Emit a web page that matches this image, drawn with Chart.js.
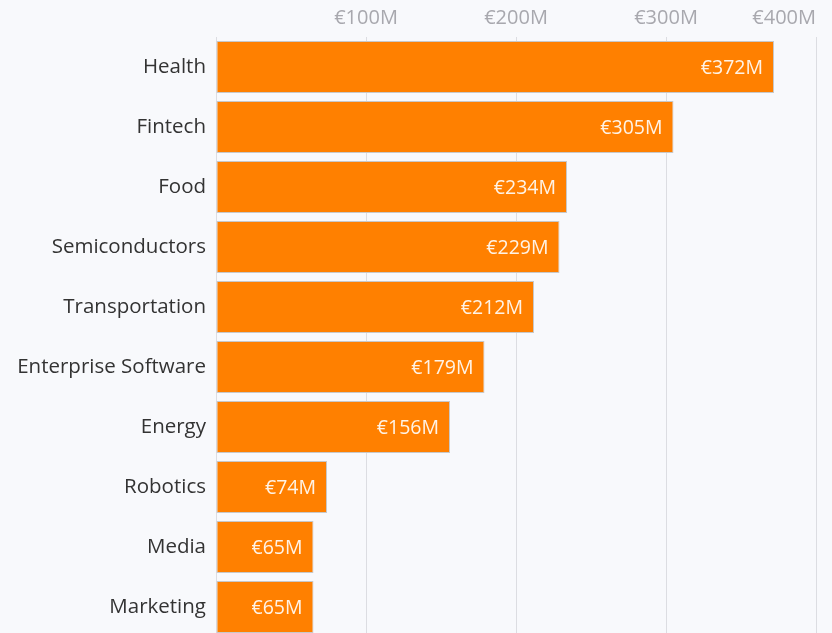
<!DOCTYPE html>
<html>
<head>
<meta charset="utf-8">
<script src="https://cdn.jsdelivr.net/npm/chart.js@4"></script>
<style>
  html, body { margin: 0; padding: 0; background: #f8f9fc; overflow: hidden; }
  #wrap { width: 832px; height: 637px; }
</style>
</head>
<body>
<div id="wrap"><canvas id="myChart"></canvas></div>
<script>
var categories = ['Health', 'Fintech', 'Food', 'Semiconductors', 'Transportation',
    'Enterprise Software', 'Energy', 'Robotics', 'Media', 'Marketing'];
var funding = [372, 305, 234, 229, 212, 179, 156, 74, 65, 65];
var tickValues = [0, 100, 200, 300, 400];

var FONT = '"Open Sans"';

// value labels drawn inside the end of each bar
var valueLabels = {
    id: 'valueLabels',
    afterDatasetsDraw: function (chart) {
        var ctx = chart.ctx;
        var meta = chart.getDatasetMeta(0);
        ctx.save();
        ctx.font = '19.5px ' + FONT;
        ctx.fillStyle = '#fff3e6';
        ctx.textAlign = 'right';
        ctx.textBaseline = 'middle';
        meta.data.forEach(function (bar, i) {
            ctx.fillText('€' + funding[i] + 'M', bar.x - 11, bar.y + 1);
        });
        ctx.restore();
    }
};

var ctx = document.getElementById('myChart').getContext('2d');
var myChart = new Chart(ctx, {
    type: 'bar',
    data: {
        labels: categories,
        datasets: [{
            data: funding,
            backgroundColor: '#ff8000',
            borderColor: '#c8c8c8',
            borderWidth: 1,
            borderSkipped: false,
            categoryPercentage: 1,
            barPercentage: 0.867
        }]
    },
    options: {
        indexAxis: 'y',
        responsive: true,
        maintainAspectRatio: false,
        animation: false,
        layout: { padding: { left: 0, right: 16, top: 0, bottom: 0 } },
        plugins: { legend: { display: false }, tooltip: { enabled: false } },
        scales: {
            x: {
                position: 'top',
                min: 0,
                max: 400,
                afterBuildTicks: function (scale) {
                    scale.ticks = tickValues.map(function (v) { return { value: v }; });
                },
                afterFit: function (scale) { scale.height = 37; },
                border: { display: false },
                grid: { color: '#dcdde2', drawTicks: false },
                ticks: {
                    align: 'inner',
                    padding: 7,
                    color: '#a8a8ae',
                    font: { family: FONT, size: 20 },
                    callback: function (v) { return v === 0 ? '' : '€' + v + 'M'; }
                }
            },
            y: {
                afterFit: function (scale) {
                    scale.width = 216;
                    scale.paddingTop = 0;
                    scale.paddingBottom = 0;
                },
                border: { display: false },
                grid: { display: false, drawTicks: false },
                ticks: {
                    padding: 10,
                    color: '#333333',
                    font: { family: FONT, size: 20.5 }
                }
            }
        }
    },
    plugins: [valueLabels]
});
</script>
</body>
</html>
